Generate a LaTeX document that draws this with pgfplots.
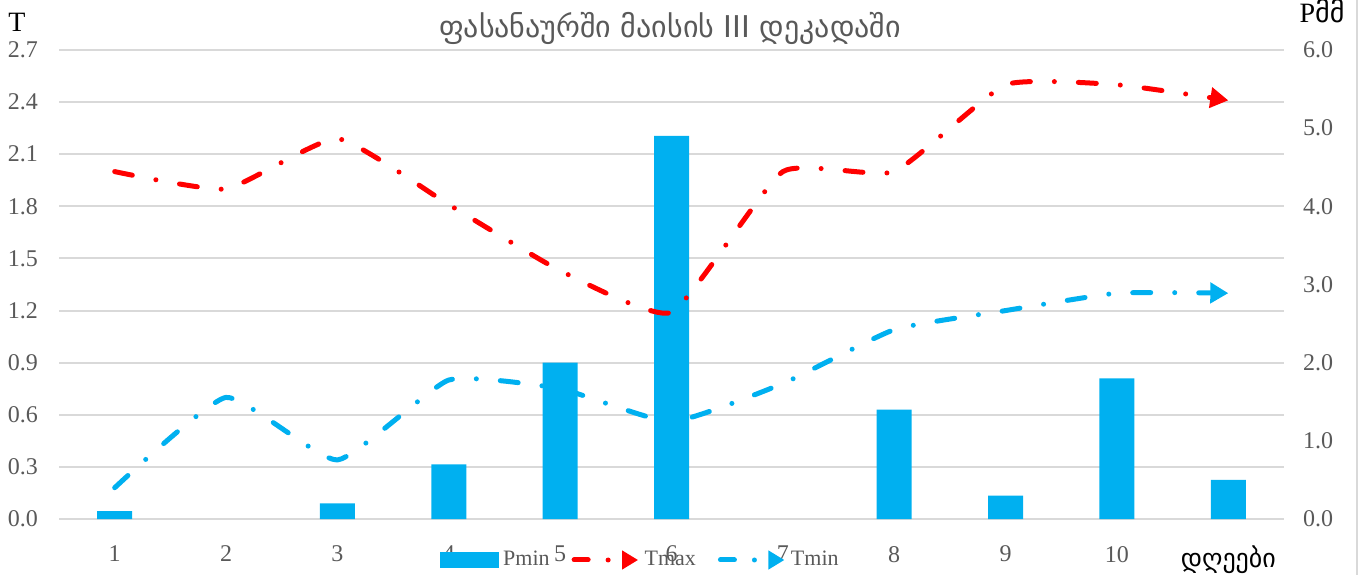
\documentclass[border=0pt]{standalone}
\usepackage{fontspec}
\setmainfont{Liberation Serif}
\newfontfamily\geo{DejaVu Sans}
\usepackage{pgfplots}
\pgfplotsset{compat=1.18}
\usetikzlibrary{arrows.meta}
\definecolor{cyanB}{HTML}{00B0F0}
\definecolor{gridc}{HTML}{D9D9D9}
\definecolor{txt}{HTML}{595959}
\begin{document}
\begin{tikzpicture}
\path[use as bounding box] (-29.5pt,-27.5pt) rectangle (652.5pt,259.5pt);
\pgfplotsset{
  base/.style={scale only axis, width=612.5pt, height=234.5pt, xmin=0.5, xmax=11.5, clip=false,
    ticklabel style={font=\fontsize{12}{14}\selectfont, text=txt},
    /pgf/number format/assume math mode=true, major tick length=0pt,
    axis line style={draw=none}},
  onedec/.style={/pgf/number format/fixed, /pgf/number format/fixed zerofill, /pgf/number format/precision=1}
}
% Axis 1: grid, left axis, x labels, title
\begin{axis}[base, ymin=0, ymax=2.7,
  ytick={0,0.3,0.6,0.9,1.2,1.5,1.8,2.1,2.4,2.7},
  y tick label style={onedec, xshift=-7pt},
  ytick pos=left, xtick pos=bottom,
  xtick={1,2,3,4,5,6,7,8,9,10,11},
  xticklabels={1,2,3,4,5,6,7,8,9,10,{\textcolor{black}{\geo\fontsize{13}{15}\selectfont დღეები}}},
  x tick label style={yshift=-10pt},
  ymajorgrids, grid style={gridc, line width=1pt},
]
\node[anchor=base, font=\geo\fontsize{15}{17}\selectfont, text=txt] at (rel axis cs:0.4988,1.026) {ფასანაურში მაისის III დეკადაში};
\node[anchor=base, font=\fontsize{14}{16}\selectfont] at (rel axis cs:-0.0343,1.0384) {T};
\node[anchor=base, font=\fontsize{14}{16}\selectfont] at (rel axis cs:1.031,1.0576) {P{\geo მმ}};
\end{axis}
% Axis 2: bars, right axis
\begin{axis}[base, ymin=0, ymax=6,
  ytick={0,1,2,3,4,5,6},
  y tick label style={onedec, xshift=6pt},
  ytick pos=right, yticklabel pos=right,
  xtick=\empty,
  ybar, bar width=17.5pt,
]
\addplot[fill=cyanB, draw=none] coordinates {(1,0.1)(3,0.2)(4,0.7)(5,2.0)(6,4.9)(8,1.4)(9,0.3)(10,1.8)(11,0.5)};
\draw[gridc, line width=1pt] (rel axis cs:1.0596,-0.3) -- (rel axis cs:1.0596,1.3);
\end{axis}
% Axis 3: lines and legend
\begin{axis}[base, ymin=0, ymax=2.7, hide axis,
  legend columns=3,
  legend style={at={(0.4755,-0.0874)}, anchor=center, draw=none, fill=none,
    font=\fontsize{11}{13}\selectfont, text=txt,
    /tikz/every even column/.append style={column sep=9pt}},
]
\addlegendimage{legend image code/.code={\fill[cyanB] (0pt,-3.75pt) rectangle (29pt,3.75pt);}}
\addlegendentry{Pmin}
\addplot[red, line width=2.5pt, line cap=round, dash pattern=on 9pt off 12pt on 0pt off 12pt, smooth, tension=0.28,
  -{Triangle[length=9pt,width=10pt]},
  legend image code/.code={\draw[red, line width=2.5pt, line cap=round, dash pattern=on 7pt off 10pt on 0pt off 10pt, -{Triangle[length=8pt,width=9pt]}] (0pt,0pt) -- (32pt,0pt);}]
  coordinates {(1,2.0)(2,1.9)(3,2.19)(4,1.81)(5,1.43)(6,1.19)(7,2.0)(8,2.0)(9,2.5)(10,2.5)(11,2.41)};
\addlegendentry{Tmax}
\addplot[cyanB, line width=2.5pt, line cap=round, dash pattern=on 9pt off 12pt on 0pt off 12pt, smooth, tension=0.28,
  -{Triangle[length=9pt,width=10pt]},
  legend image code/.code={\draw[cyanB, line width=2.5pt, line cap=round, dash pattern=on 7pt off 10pt on 0pt off 10pt, -{Triangle[length=8pt,width=9pt]}] (0pt,0pt) -- (32pt,0pt);}]
  coordinates {(1,0.18)(2,0.70)(3,0.34)(4,0.80)(5,0.75)(6,0.56)(7,0.78)(8,1.09)(9,1.2)(10,1.3)(11,1.3)};
\addlegendentry{Tmin}
\end{axis}
\end{tikzpicture}
\end{document}
